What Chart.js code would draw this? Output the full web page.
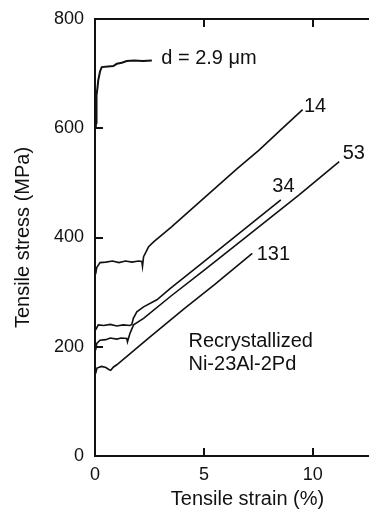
<!DOCTYPE html>
<html>
<head>
<meta charset="utf-8">
<script src="https://cdn.jsdelivr.net/npm/chart.js"></script>
<style>
  html, body { margin: 0; padding: 0; background: #fff; overflow: hidden; }
  #wrap { width: 369px; height: 509px; overflow: hidden; }
</style>
</head>
<body>
<div id="wrap"><canvas id="chart" width="400" height="509"></canvas></div>
<script>
// stress-strain curves: strain in %, stress in MPa
const d29Strain = [0.03, 0.05, 0.06, 0.08, 0.12, 0.15, 0.23, 0.31, 0.6, 0.84, 1.0, 1.23, 1.46, 1.8, 2.2, 2.61];
const d29Stress = [600, 610, 625, 660, 676, 688, 704, 712, 713, 714, 718, 720, 723, 724, 723, 724];

const d14Strain = [0.03, 0.08, 0.23, 0.5, 0.8, 1.1, 1.4, 1.7, 2.0, 2.15, 2.18, 2.23, 2.46, 2.69, 3.5, 5.0, 6.5, 7.53, 8.5, 9.53];
const d14Stress = [333, 345, 354, 355, 357, 354, 357, 355, 357, 356, 347, 365, 383, 392, 419, 472, 525, 560, 596, 634];

const d34Strain = [0.03, 0.15, 0.4, 0.7, 1.0, 1.3, 1.6, 1.69, 1.76, 1.92, 2.23, 2.84, 3.46, 5.0, 7.0, 8.53];
const d34Stress = [231, 240, 239, 241, 238, 240, 239, 241, 252, 264, 273, 286, 307, 356, 420, 469];

const d53Strain = [0.03, 0.08, 0.23, 0.5, 0.7, 1.0, 1.2, 1.46, 1.49, 1.61, 1.77, 2.23, 3.46, 5.0, 7.0, 9.37, 11.21];
const d53Stress = [194, 206, 212, 213, 216, 214, 216, 215, 209, 225, 240, 252, 292, 340, 403, 478, 539];

const d131Strain = [0.03, 0.09, 0.3, 0.5, 0.65, 0.72, 0.85, 1.0, 1.6, 2.5, 4.07, 5.5, 7.22];
const d131Stress = [151, 161, 164, 162, 158, 157, 163, 167, 187, 217, 269, 314, 371];

// curve labels: text, strain, stress (left edge, vertical middle)
const labelText = ['d = 2.9 \u03bcm', '14', '34', '53', '131', 'Recrystallized', 'Ni-23Al-2Pd'];
const labelX = [3.04, 9.59, 8.14, 11.37, 7.42, 4.29, 4.29];
const labelY = [728, 640, 493, 554, 368, 209, 167];

const FONT = "'Liberation Sans', Arial, Helvetica, sans-serif";
const INK = '#111';
const TICK = 8;

function pts(xs, ys) {
    return xs.map((x, i) => ({ x: x, y: ys[i] }));
}

function curve(xs, ys, w) {
    return {
        data: pts(xs, ys),
        borderColor: INK,
        borderWidth: w,
        pointRadius: 0,
        tension: 0,
        fill: false
    };
}

// curve labels, plus the top frame line and the inward tick marks
const labelPlugin = {
    id: 'curveLabels',
    afterDraw(chart) {
        const ctx = chart.ctx;
        const sx = chart.scales.x;
        const sy = chart.scales.y;
        const a = chart.chartArea;
        ctx.save();
        ctx.strokeStyle = INK;
        ctx.lineWidth = 2;
        ctx.beginPath();
        ctx.moveTo(a.left - 1, a.top);
        ctx.lineTo(a.right, a.top);
        sx.ticks.forEach(t => {
            if (t.value === 0) return;
            const px = Math.round(sx.getPixelForValue(t.value));
            ctx.moveTo(px, a.bottom);
            ctx.lineTo(px, a.bottom - TICK);
            ctx.moveTo(px, a.top);
            ctx.lineTo(px, a.top + TICK);
        });
        sy.ticks.forEach(t => {
            if (t.value === 0 || t.value === 800) return;
            const py = Math.round(sy.getPixelForValue(t.value));
            ctx.moveTo(a.left, py);
            ctx.lineTo(a.left + TICK, py);
        });
        ctx.stroke();

        ctx.fillStyle = INK;
        ctx.font = '20px ' + FONT;
        ctx.textAlign = 'left';
        ctx.textBaseline = 'middle';
        labelText.forEach((t, i) => {
            ctx.fillText(t, sx.getPixelForValue(labelX[i]), sy.getPixelForValue(labelY[i]));
        });
        ctx.restore();
    }
};

// tick marks themselves are drawn by the plugin; these only space the labels
const axisGrid = { drawOnChartArea: false, drawTicks: true, tickLength: 3, tickColor: 'rgba(0,0,0,0)' };
const axisBorder = { color: INK, width: 2 };

new Chart(document.getElementById('chart'), {
    type: 'line',
    data: {
        datasets: [
            curve(d29Strain, d29Stress, 2),
            curve(d14Strain, d14Stress, 1.6),
            curve(d34Strain, d34Stress, 1.6),
            curve(d53Strain, d53Stress, 1.6),
            curve(d131Strain, d131Stress, 1.6)
        ]
    },
    options: {
        responsive: false,
        animation: false,
        devicePixelRatio: 1,
        layout: { padding: { top: 19, left: 0, right: 0, bottom: 0 } },
        plugins: { legend: { display: false }, tooltip: { enabled: false } },
        scales: {
            x: {
                type: 'linear', position: 'bottom', min: 0, max: 14,
                ticks: { stepSize: 5, includeBounds: false, padding: 5, color: INK, font: { family: FONT, size: 18 } },
                grid: axisGrid,
                border: axisBorder,
                title: { display: true, text: 'Tensile strain (%)', color: INK, font: { family: FONT, size: 20, lineHeight: 1 }, padding: { top: 0, bottom: 0 } },
                afterFit: s => { s.height = 53; }
            },
            y: {
                type: 'linear', position: 'left', min: 0, max: 800,
                ticks: { stepSize: 200, padding: 8, color: INK, font: { family: FONT, size: 18 } },
                grid: axisGrid,
                border: axisBorder,
                title: { display: true, text: 'Tensile stress (MPa)', color: INK, font: { family: FONT, size: 20, lineHeight: 1.2 }, padding: { top: 11, bottom: 0 } },
                afterFit: s => { s.width = 95; }
            }
        }
    },
    plugins: [labelPlugin]
});
</script>
</body>
</html>
